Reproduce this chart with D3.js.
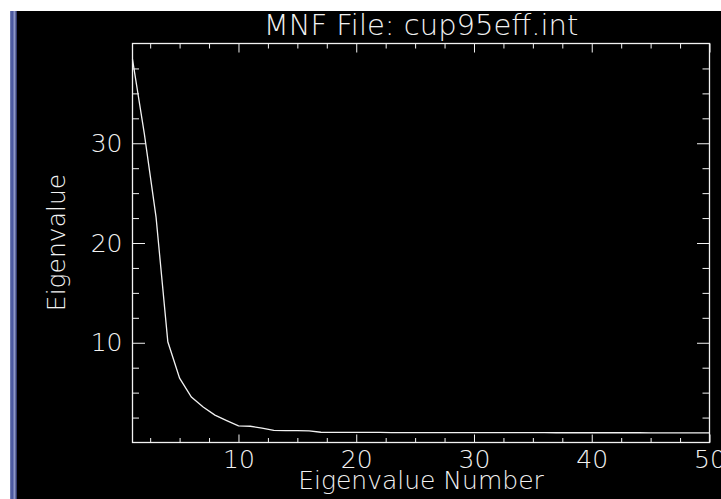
<!DOCTYPE html>
<html>
<head>
<meta charset="utf-8">
<script src="https://cdn.jsdelivr.net/npm/d3@7"></script>
<style>
  html, body { margin: 0; padding: 0; background: #ffffff; }
  svg { display: block; }
  text { font-family: "DejaVu Sans ExtraLight", "DejaVu Sans", sans-serif; font-weight: 200; fill: #f2f2f2; }
</style>
</head>
<body>
<svg id="chart"></svg>
<script>
// eigenvalue number 1..50 and the eigenvalues
var bandNumbers = d3.range(1, 51);
var eigenValues = [
  38.4, 31.0, 22.6, 10.1, 6.45, 4.55, 3.55, 2.75, 2.2, 1.66,
  1.63, 1.45, 1.22, 1.2, 1.19, 1.17, 1.03, 1.02, 1.02, 1.01,
  1.01, 1.01, 1.0, 1.0, 1.0, 1.0, 1.0, 1.0, 0.99, 0.99,
  0.99, 0.99, 0.99, 0.99, 0.99, 0.98, 0.98, 0.98, 0.98, 0.98,
  0.98, 0.98, 0.98, 0.98, 0.97, 0.97, 0.97, 0.97, 0.97, 0.97
];
var xMajorTicks = [10, 20, 30, 40, 50];
var xMinorTicks = [2.5, 5, 7.5, 12.5, 15, 17.5, 22.5, 25, 27.5, 32.5, 35, 37.5, 42.5, 45, 47.5];
var yMajorTicks = [10, 20, 30];
var yMinorTicks = [2.5, 5, 7.5, 12.5, 15, 17.5, 22.5, 25, 27.5, 32.5, 35, 37.5];
var titleStr = "MNF File: cup95eff.int";
var xLabelStr = "Eigenvalue Number";
var yLabelStr = "Eigenvalue";

var width = 721, height = 499;
var plotLeft = 132.5, plotRight = 709.5, plotTop = 43.5, plotBottom = 442.5;
var fg = "#f2f2f2";

var svg = d3.select("#chart")
    .attr("width", width)
    .attr("height", height);

// window frame: white strip on top/left, blue border, black plot window
var grad = svg.append("defs").append("linearGradient")
    .attr("id", "edge")
    .attr("x1", "0%").attr("x2", "100%");
grad.append("stop").attr("offset", "0%").attr("stop-color", "#7a86b8");
grad.append("stop").attr("offset", "30%").attr("stop-color", "#3e4c98");
grad.append("stop").attr("offset", "65%").attr("stop-color", "#8e98c8");
grad.append("stop").attr("offset", "100%").attr("stop-color", "#1c2458");

svg.append("rect").attr("x", 0).attr("y", 0).attr("width", width).attr("height", height).attr("fill", "#ffffff");
svg.append("rect").attr("x", 10).attr("y", 11).attr("width", width - 10).attr("height", height - 11).attr("fill", "#000000");
svg.append("rect").attr("x", 10).attr("y", 11).attr("width", 7).attr("height", height - 11).attr("fill", "url(#edge)");

var x = d3.scaleLinear().domain([1, 50]).range([plotLeft, plotRight]);
var y = d3.scaleLinear().domain([0, 40]).range([plotBottom, plotTop]);

function styleAxis(g) {
    g.select(".domain").remove();
    g.selectAll(".tick line").attr("stroke", fg).attr("stroke-width", 1);
    g.selectAll(".tick text")
        .attr("fill", fg)
        .style("font-size", "25px");
}

// bottom axis with labels, top axis without
svg.append("g")
    .attr("transform", "translate(0," + plotBottom + ")")
    .call(d3.axisBottom(x).tickValues(xMinorTicks).tickSize(-4.5).tickFormat(""))
    .call(styleAxis);
svg.append("g")
    .attr("transform", "translate(0," + plotBottom + ")")
    .call(d3.axisBottom(x).tickValues(xMajorTicks).tickSize(-8).tickPadding(8).tickFormat(d3.format("d")))
    .call(styleAxis);
svg.append("g")
    .attr("transform", "translate(0," + plotTop + ")")
    .call(d3.axisTop(x).tickValues(xMinorTicks).tickSize(-5).tickFormat(""))
    .call(styleAxis);
svg.append("g")
    .attr("transform", "translate(0," + plotTop + ")")
    .call(d3.axisTop(x).tickValues(xMajorTicks).tickSize(-9).tickFormat(""))
    .call(styleAxis);

// left axis with labels, right axis without
svg.append("g")
    .attr("transform", "translate(" + plotLeft + ",0)")
    .call(d3.axisLeft(y).tickValues(yMinorTicks).tickSize(-6.5).tickFormat(""))
    .call(styleAxis);
svg.append("g")
    .attr("transform", "translate(" + plotLeft + ",0)")
    .call(d3.axisLeft(y).tickValues(yMajorTicks).tickSize(-12.5).tickPadding(10).tickFormat(d3.format("d")))
    .call(styleAxis);
svg.append("g")
    .attr("transform", "translate(" + plotRight + ",0)")
    .call(d3.axisRight(y).tickValues(yMinorTicks).tickSize(-7).tickFormat(""))
    .call(styleAxis);
svg.append("g")
    .attr("transform", "translate(" + plotRight + ",0)")
    .call(d3.axisRight(y).tickValues(yMajorTicks).tickSize(-12.5).tickFormat(""))
    .call(styleAxis);

svg.append("rect")
    .attr("x", plotLeft)
    .attr("y", plotTop)
    .attr("width", plotRight - plotLeft)
    .attr("height", plotBottom - plotTop)
    .attr("fill", "none")
    .attr("stroke", fg)
    .attr("stroke-width", 1.3);

var line = d3.line()
    .x(function(d, i) { return x(bandNumbers[i]); })
    .y(function(d) { return y(d); });

svg.append("path")
    .datum(eigenValues)
    .attr("d", line)
    .attr("fill", "none")
    .attr("stroke", fg)
    .attr("stroke-width", 1.3);

svg.append("text")
    .attr("x", (plotLeft + plotRight) / 2)
    .attr("y", 35)
    .attr("text-anchor", "middle")
    .style("font-size", "29px")
    .text(titleStr);

svg.append("text")
    .attr("x", (plotLeft + plotRight) / 2)
    .attr("y", 489)
    .attr("text-anchor", "middle")
    .style("font-size", "25px")
    .text(xLabelStr);

svg.append("text")
    .attr("transform", "translate(65," + 242.5 + ") rotate(-90)")
    .attr("text-anchor", "middle")
    .style("font-size", "25px")
    .text(yLabelStr);
</script>
</body>
</html>
